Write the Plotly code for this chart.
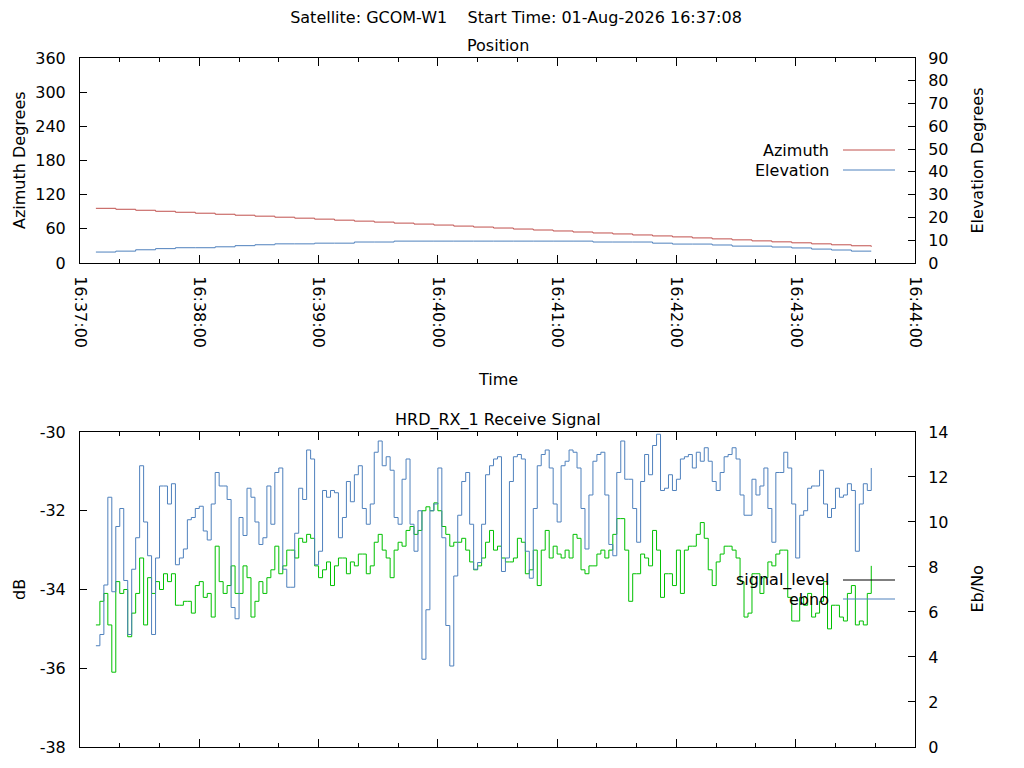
import plotly.graph_objects as go
from plotly.subplots import make_subplots
import pandas as pd

# ==========================================================
# CONFIGURATION
# ==========================================================
SATELLITE = "GCOM-W1"
START_TIME = "2026-08-01 16:37:08"
RX_NAME = "HRD_RX_1"

FONT = "DejaVu Sans"
FONT_SIZE = 16

RED = "#c0504d"
BLUE = "#4f81bd"
GREEN = "#00c000"

# page is drawn with the browser's 8 px body margin
FIG_W, FIG_H = 1016, 760

# ==========================================================
# DATA
# ==========================================================
# position, sampled every 10 s from START_TIME
POS_STEP = "10s"
azimuth = [
    96.0, 94.3, 92.6, 90.8, 89.1, 87.4, 85.6, 83.9, 82.2, 80.4,
    78.7, 77.0, 75.2, 73.5, 71.8, 70.0, 68.3, 66.6, 64.8, 63.1,
    61.4, 59.6, 57.9, 56.2, 54.4, 52.7, 51.0, 49.2, 47.5, 45.8,
    44.0, 42.3, 40.6, 38.8, 37.1, 35.4, 33.6, 31.9, 30.2, 28.5,
]
elevation = [
    4.8, 5.2, 5.8, 6.3, 6.7, 6.7, 7.1, 7.6, 8.0, 8.4,
    8.4, 8.7, 8.7, 9.2, 9.2, 9.6, 9.6, 9.6, 9.6, 9.6,
    9.6, 9.6, 9.6, 9.6, 9.6, 9.2, 9.2, 9.2, 8.7, 8.3,
    8.3, 7.9, 7.4, 7.4, 7.0, 6.6, 6.1, 5.7, 5.2, 5.2,
]

# receiver, sampled every 2 s from START_TIME
SIG_STEP = "2s"
signal_level = [
    -34.9, -34.3, -34.1, -34.9, -36.1, -33.8, -34.1, -34.0, -35.2, -34.6,
    -34.1, -33.2, -34.9, -33.7, -34.1, -33.8, -34.0, -33.6, -33.8, -33.6,
    -34.4, -34.4, -34.3, -34.3, -34.6, -33.9, -33.8, -34.2, -34.1, -34.7,
    -32.9, -33.8, -34.1, -33.9, -33.4, -34.1, -34.1, -33.4, -33.7, -34.7,
    -34.3, -33.8, -34.1, -33.7, -33.5, -32.9, -33.6, -33.4,
    -33.0, -33.0, -33.2, -32.7, -32.8, -32.6, -32.7, -33.4, -33.7, -33.5,
    -33.3, -33.9, -33.4, -33.2, -33.2, -33.6, -33.3, -33.4, -33.1, -33.1,
    -33.6, -33.4, -32.8, -32.6, -33.0, -33.2, -33.7, -33.0, -32.8, -32.9,
    -32.5, -32.4, -32.6, -32.5, -32.0, -31.9, -32.0, -31.8, -32.0, -32.4,
    -32.6, -32.9, -32.8, -32.8, -32.7, -33.0, -33.3, -33.5, -33.4,
    -33.2, -32.8, -32.5, -33.0, -32.9, -33.2, -33.3, -33.3, -33.2, -32.7,
    -32.8, -33.6, -33.5, -33.0, -33.9, -33.0, -32.5, -33.2, -32.9, -33.1,
    -33.2, -33.0, -33.2, -32.6, -32.7, -33.5, -33.6, -33.4, -33.4, -33.1,
    -33.0, -33.2, -33.0, -32.6, -32.2, -32.2, -33.0, -34.3, -33.6, -33.6,
    -33.1, -33.2, -33.4, -32.5, -33.0, -34.2, -33.6, -33.6, -33.9,
    -33.0, -34.1, -33.0, -32.9, -32.9, -32.6, -32.3, -32.7, -33.5, -33.9,
    -33.3, -33.1, -32.9, -32.9, -33.0, -33.2, -33.8, -34.7, -34.6, -33.6,
    -33.6, -34.1, -33.7, -33.3, -33.4, -33.1, -33.0, -33.0, -34.2, -34.8,
    -34.8, -34.2, -34.4, -34.1, -34.7, -34.6, -34.3, -33.8, -35.0, -34.4,
    -34.4, -34.7, -34.8, -34.1, -33.9, -34.9, -34.8, -34.9, -34.1, -33.4,
]
ebno = [
    4.5, 5.0, 7.2, 11.1, 6.9, 9.8, 10.6, 7.4, 5.0, 7.9,
    9.3, 12.5, 10.0, 8.5, 5.0, 8.4, 11.6, 11.6, 10.8, 11.7,
    8.1, 8.4, 8.8, 10.1, 10.2, 10.6, 10.7, 9.6, 9.2, 10.8,
    12.2, 11.6, 11.6, 11.0, 6.2, 5.7, 10.2, 9.4, 11.5, 11.1,
    10.0, 9.0, 9.3, 11.6, 9.9, 12.2, 12.4, 7.9,
    7.1, 7.1, 9.5, 11.5, 11.0, 13.2, 12.8, 8.1, 8.7, 11.4,
    11.1, 11.4, 11.3, 9.3, 10.2, 11.8, 10.9, 12.1, 12.5, 10.6,
    9.9, 10.8, 13.1, 13.6, 12.5, 12.9, 12.3, 10.2, 9.9, 11.9,
    12.8, 9.9, 8.7, 10.5, 3.9, 6.1, 10.5, 10.8, 12.4, 9.3,
    5.4, 3.6, 7.6, 10.3, 11.8, 12.2, 9.9, 7.9, 8.2,
    9.9, 12.1, 12.5, 12.8, 12.9, 7.8, 8.4, 11.8, 12.9, 13.0,
    12.8, 8.7, 7.5, 10.6, 12.5, 13.0, 13.2, 12.4, 10.8, 10.0,
    12.5, 12.7, 13.2, 13.1, 12.4, 10.6, 8.8, 11.2, 12.7, 13.0,
    13.1, 11.2, 9.0, 8.5, 12.2, 13.6, 11.9, 11.9, 10.6, 9.1,
    11.8, 13.0, 12.1, 13.4, 13.9, 11.4, 11.5, 12.1, 11.4,
    11.9, 12.8, 12.9, 13.0, 12.4, 13.1, 12.7, 13.3, 12.7, 11.8,
    11.4, 12.2, 12.9, 13.0, 13.3, 12.8, 11.2, 10.3, 10.3, 11.9,
    11.2, 11.6, 12.4, 10.6, 9.1, 12.2, 12.2, 13.1, 12.4, 10.8,
    8.4, 10.3, 10.5, 11.5, 11.6, 11.6, 12.3, 10.8, 10.2, 10.6,
    11.5, 11.1, 11.2, 11.7, 11.4, 8.7, 10.8, 11.7, 11.4, 12.4,
]

X_RANGE = ["2026-08-01 16:37:00", "2026-08-01 16:44:00"]
AZ_TICKS = [0, 60, 120, 180, 240, 300, 360]
EL_TICKS = [0, 10, 20, 30, 40, 50, 60, 70, 80, 90]
DB_TICKS = [-38, -36, -34, -32, -30]
EBNO_TICKS = [0, 2, 4, 6, 8, 10, 12, 14]

pos_time = pd.date_range(START_TIME, periods=len(azimuth), freq=POS_STEP)
sig_time = pd.date_range(START_TIME, periods=len(ebno), freq=SIG_STEP)

start_label = pd.Timestamp(START_TIME).strftime("%d-%b-%Y %H:%M:%S")

# ==========================================================
# FIGURE
# ==========================================================
fig = make_subplots(
    rows=2, cols=1,
    specs=[[{"secondary_y": True}], [{"secondary_y": True}]],
)

# -------------------------------
# POSITION PANEL
# -------------------------------
fig.add_trace(
    go.Scatter(x=pos_time, y=azimuth, mode="lines", name="Azimuth",
               line=dict(color=RED, width=1, shape="hv"), showlegend=False),
    row=1, col=1, secondary_y=False,
)
fig.add_trace(
    go.Scatter(x=pos_time, y=elevation, mode="lines", name="Elevation",
               line=dict(color=BLUE, width=1, shape="hv"), showlegend=False),
    row=1, col=1, secondary_y=True,
)

# -------------------------------
# RECEIVE SIGNAL PANEL
# -------------------------------
fig.add_trace(
    go.Scatter(x=sig_time, y=signal_level, mode="lines", name="signal_level",
               line=dict(color=GREEN, width=1, shape="hv"), showlegend=False),
    row=2, col=1, secondary_y=False,
)
fig.add_trace(
    go.Scatter(x=sig_time, y=ebno, mode="lines", name="ebno",
               line=dict(color=BLUE, width=1, shape="hv"), showlegend=False),
    row=2, col=1, secondary_y=True,
)

# -------------------------------
# AXES
# -------------------------------
TOP_DOMAIN = [0.7025, 1.0]
BOT_DOMAIN = [0.0, 0.4572]


def y_axis(ticks, standoff, **kw):
    # plain hyphen labels like gnuplot (plotly would use a unicode minus)
    return dict(
        showline=True, linecolor="black", linewidth=1,
        showgrid=False, zeroline=False,
        ticks="inside", ticklen=7, tickcolor="black",
        range=[ticks[0], ticks[-1]], tickvals=ticks,
        ticktext=[str(t) for t in ticks], ticklabelstandoff=standoff,
        tickfont=dict(family=FONT, size=FONT_SIZE, color="black"),
        **kw,
    )


x_common = dict(
    domain=[0, 1],
    showline=True, linecolor="black", linewidth=1, mirror="ticks",
    showgrid=False, zeroline=False,
    type="date", range=X_RANGE, dtick=60000, tickformat="%H:%M:%S",
    ticks="inside", ticklen=8, tickcolor="black",
    minor=dict(dtick=20000, ticks="inside", ticklen=4, tickcolor="black"),
    tickfont=dict(family=FONT, size=FONT_SIZE, color="black"),
)

fig.update_layout(
    xaxis=dict(x_common, tickangle=90, ticklabelstandoff=9),
    xaxis2=dict(x_common, showticklabels=False),
    yaxis=y_axis(AZ_TICKS, 10, domain=TOP_DOMAIN),
    yaxis2=y_axis(EL_TICKS, 9),
    yaxis3=y_axis(DB_TICKS, 10, domain=BOT_DOMAIN),
    yaxis4=y_axis(EBNO_TICKS, 9),
)

# -------------------------------
# TITLES & AXIS LABELS
# -------------------------------
def paper_y(py):
    # screen row -> paper coordinate (plot area spans rows 58..747)
    return (747 - py) / 689


def paper_x(px):
    # screen column -> paper coordinate (plot area spans cols 80..915)
    return (px - 80) / 835


text_font = dict(family=FONT, size=FONT_SIZE, color="black")
labels = [
    ("Position", 0.5, paper_y(46), 0, "center"),
    ("Time", 0.5, paper_y(379), 0, "center"),
    (f"{RX_NAME} Receive Signal", 0.5, paper_y(420), 0, "center"),
    # left titles start at the page edge so they are not clipped
    ("Azimuth Degrees", paper_x(8), paper_y(160.5), -90, "left"),
    ("Elevation Degrees", paper_x(977), paper_y(160.5), -90, "center"),
    ("dB", paper_x(8), paper_y(589.5), -90, "left"),
    ("Eb/No", paper_x(977), paper_y(589.5), -90, "center"),
]
for text, x, y, angle, anchor in labels:
    fig.add_annotation(text=text, x=x, y=y, xref="paper", yref="paper",
                       xanchor=anchor, yanchor="middle", textangle=angle,
                       showarrow=False, font=text_font)

# gnuplot style key: label right-aligned, line sample to its right
keys = [
    ("Azimuth", RED, 150),
    ("Elevation", BLUE, 170),
    ("signal_level", "black", 580),
    ("ebno", BLUE, 599),
]
for text, color, py in keys:
    fig.add_annotation(text=text, x=paper_x(831), y=paper_y(py),
                       xref="paper", yref="paper", xanchor="right",
                       yanchor="middle", showarrow=False, font=text_font)
    fig.add_shape(type="line", xref="paper", yref="paper",
                  x0=paper_x(843), x1=paper_x(895),
                  y0=paper_y(py), y1=paper_y(py),
                  line=dict(color=color, width=1))

# -------------------------------
# LAYOUT
# -------------------------------
fig.update_layout(
    title=dict(
        text=f"Satellite: {SATELLITE}    Start Time: {start_label}",
        x=0.5, xref="container", y=1 - 9 / FIG_H, yref="container",
        xanchor="center", yanchor="middle",
        font=dict(family=FONT, size=FONT_SIZE, color="black"),
    ),
    width=FIG_W, height=FIG_H,
    margin=dict(l=72, r=FIG_W - 72 - 835, t=50, b=FIG_H - 50 - 689),
    paper_bgcolor="white", plot_bgcolor="white",
    font=dict(family=FONT, size=FONT_SIZE, color="black"),
    showlegend=False,
)

fig.write_html("out.html")
